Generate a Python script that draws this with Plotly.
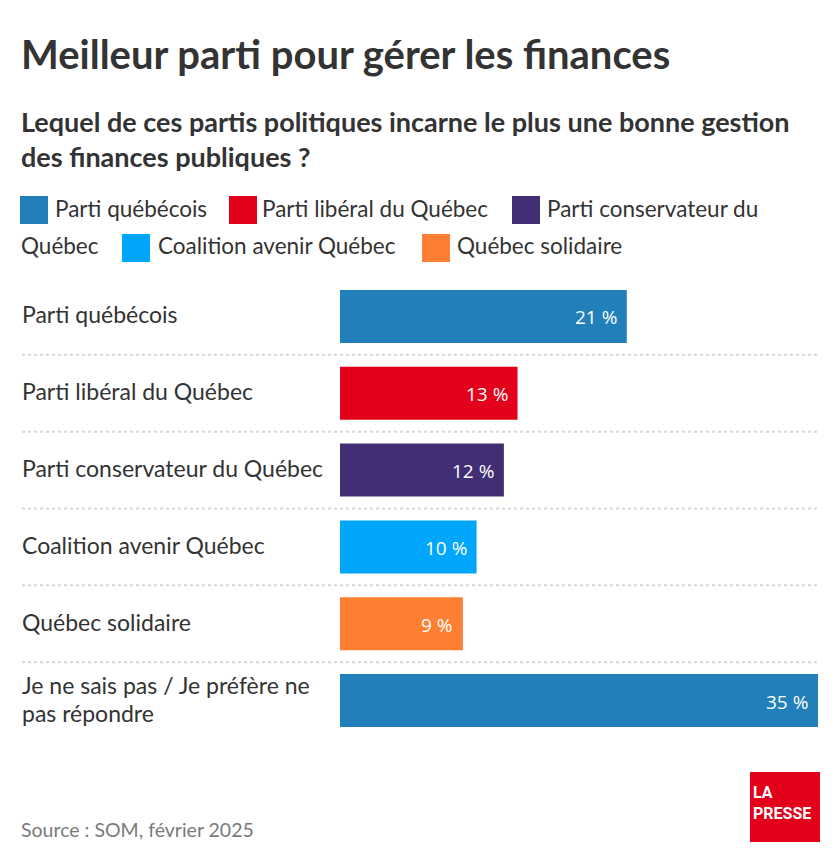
import plotly.graph_objects as go

# ---- data ----
categories = [
    "Parti québécois",
    "Parti libéral du Québec",
    "Parti conservateur du Québec",
    "Coalition avenir Québec",
    "Québec solidaire",
    "Je ne sais pas / Je préfère ne pas répondre",
]
category_lines = [
    ["Parti québécois"],
    ["Parti libéral du Québec"],
    ["Parti conservateur du Québec"],
    ["Coalition avenir Québec"],
    ["Québec solidaire"],
    ["Je ne sais pas / Je préfère ne", "pas répondre"],
]
values = [21, 13, 12, 10, 9, 35]
bar_colors = ["#2180b9", "#e2001a", "#412e75", "#00a6f9", "#ff7f32", "#2180b9"]

legend_names = ["Parti québécois", "Parti libéral du Québec", "Parti conservateur du Québec",
                "Coalition avenir Québec", "Québec solidaire"]
legend_colors = ["#2180b9", "#e2001a", "#412e75", "#00a6f9", "#ff7f32"]

title = "Meilleur parti pour gérer les finances"
subtitle_lines = ["Lequel de ces partis politiques incarne le plus une bonne gestion",
                  "des finances publiques ?"]
source = "Source : SOM, février 2025"

# ---- layout geometry (pixels) ----
W, H = 840, 862
L, R, T, B = 340, 22, 278, 123
PW = W - L - R
PH = H - T - B
FONT = "Lato"
TXT = "#333333"


def px(x):
    return (x - L) / PW


def py(y):
    return (H - B - y) / PH


fig = go.Figure()
fig.add_trace(go.Bar(
    x=values, y=categories, orientation="h",
    marker=dict(color=bar_colors, line=dict(width=0)),
    width=0.69, hoverinfo="skip", showlegend=False,
))

annotations = []
shapes = []

# value labels inside bar end
for c, v in zip(categories, values):
    annotations.append(dict(
        x=v, y=c, xref="x", yref="y", text=f"{v} %", showarrow=False,
        xanchor="right", yanchor="middle", xshift=-8, yshift=-1,
        font=dict(family="Open Sans", size=19, color="white"),
    ))

# category labels left-aligned
for i, (c, lines) in enumerate(zip(categories, category_lines)):
    n = len(lines)
    for j, line in enumerate(lines):
        annotations.append(dict(
            x=px(20), y=c, xref="paper", yref="y", text=line, showarrow=False,
            xanchor="left", yanchor="middle", yshift=2 + (n - 1) * 14 - j * 28,
            font=dict(family=FONT, size=23, color=TXT),
        ))

# dotted separators
for i in range(len(categories) - 1):
    shapes.append(dict(
        type="line", xref="paper", yref="y",
        x0=px(22), x1=px(818), y0=i + 0.5, y1=i + 0.5,
        line=dict(color="#d6d6d6", width=2, dash="dot"),
    ))

# title & subtitle
annotations.append(dict(
    x=px(19), y=py(54), xref="paper", yref="paper", text=f"<b>{title}</b>",
    showarrow=False, xanchor="left", yanchor="middle",
    font=dict(family=FONT, size=40, color=TXT),
))
for j, line in enumerate(subtitle_lines):
    annotations.append(dict(
        x=px(19), y=py(121 + 35 * j), xref="paper", yref="paper", text=f"<b>{line}</b>",
        showarrow=False, xanchor="left", yanchor="middle",
        font=dict(family=FONT, size=27, color=TXT),
    ))

# custom legend
legend_layout = [
    (20, 210, 53, legend_names[0]),
    (229, 210, 260, legend_names[1]),
    (512, 210, 545, "Parti conservateur du"),
    (None, 248, 19, "Québec"),
    (122, 248, 156, legend_names[3]),
    (422, 248, 455, legend_names[4]),
]
color_for = {
    legend_names[0]: legend_colors[0],
    legend_names[1]: legend_colors[1],
    "Parti conservateur du": legend_colors[2],
    legend_names[3]: legend_colors[3],
    legend_names[4]: legend_colors[4],
}
for sx, cy, tx, text in legend_layout:
    if sx is not None:
        shapes.append(dict(
            type="rect", xref="paper", yref="paper",
            x0=px(sx), x1=px(sx + 28), y0=py(cy - 14), y1=py(cy + 14),
            fillcolor=color_for[text], line=dict(width=0),
        ))
    annotations.append(dict(
        x=px(tx), y=py(cy - 2), xref="paper", yref="paper", text=text,
        showarrow=False, xanchor="left", yanchor="middle",
        font=dict(family=FONT, size=22.5, color=TXT),
    ))

# source
annotations.append(dict(
    x=px(19), y=py(829), xref="paper", yref="paper", text=source,
    showarrow=False, xanchor="left", yanchor="middle",
    font=dict(family=FONT, size=19.5, color="#7a7a7a"),
))

# La Presse logo
shapes.append(dict(
    type="rect", xref="paper", yref="paper",
    x0=px(750), x1=px(820), y0=py(842), y1=py(772),
    fillcolor="#e2001a", line=dict(width=0),
))
annotations.append(dict(
    x=px(751), y=py(803), xref="paper", yref="paper", text="<b>LA</b><br><b>PRESSE</b>",
    showarrow=False, xanchor="left", yanchor="middle", align="left",
    font=dict(family="Roboto", size=16, color="white"),
))

fig.update_layout(
    width=W, height=H,
    margin=dict(l=L, r=R, t=T, b=B, pad=0),
    paper_bgcolor="white", plot_bgcolor="white",
    xaxis=dict(range=[0, 35], visible=False, fixedrange=True),
    yaxis=dict(categoryorder="array", categoryarray=categories, autorange="reversed",
               visible=False, fixedrange=True),
    annotations=annotations, shapes=shapes,
    bargap=0.3,
)

fig.write_html("out.html", config={"displayModeBar": False},
               post_script="document.body.style.margin='0px';")
